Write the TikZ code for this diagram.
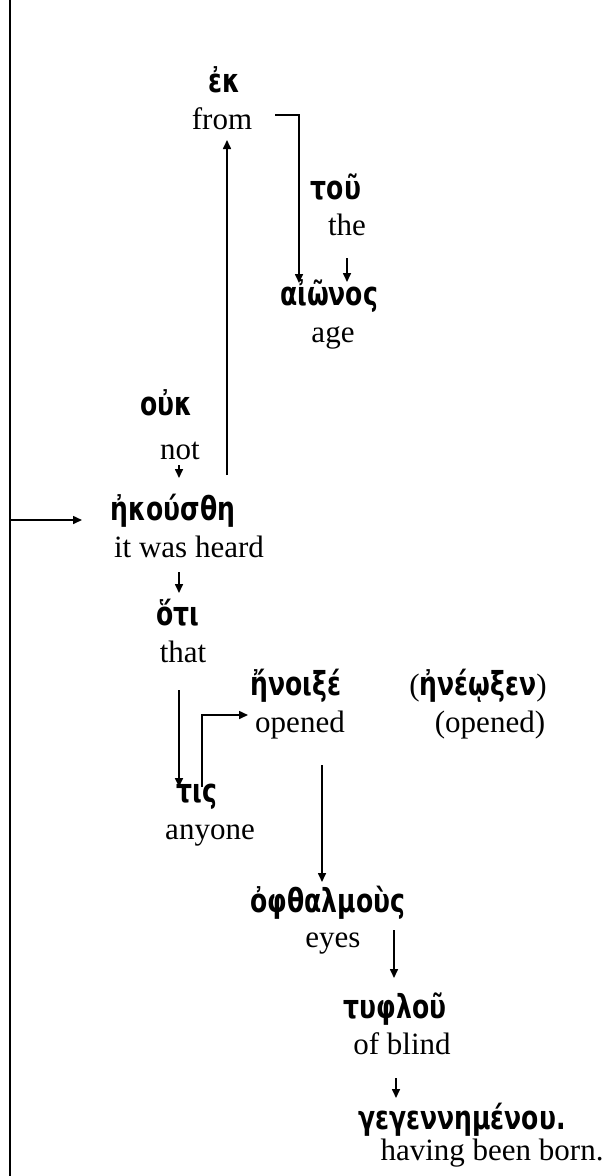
\documentclass[tikz,border=0pt]{standalone}
\usepackage{fontspec}
\setmainfont{Liberation Serif}
\newfontfamily\grfont{DejaVu Sans}[FakeStretch=0.76]
\usetikzlibrary{arrows.meta}
\tikzset{
  gr/.style={font=\grfont\bfseries\fontsize{33}{36}\selectfont, inner sep=0pt, anchor=mid},
  en/.style={font=\fontsize{31}{36}\selectfont, inner sep=0pt, anchor=mid},
  arr/.style={-{Triangle[length=9pt,width=8pt]}, line width=1.6pt},
  ln/.style={line width=1.6pt}
}
\begin{document}
\begin{tikzpicture}[x=1pt,y=-1pt]
\useasboundingbox (0,0) rectangle (609,1176);
% texts
\node[gr] (ek) at (224,90) {ἐκ};
\node[en] (from) at (222,127) {from};
\node[gr] (tou) at (336,197) {τοῦ};
\node[en] (the) at (347,233) {the};
\node[gr] (aionos) at (329,303) {αἰῶνος};
\node[en] (age) at (333,340) {age};
\node[gr] (ouk) at (166,413) {οὐκ};
\node[en] (not) at (180,457) {not};
\node[gr] (ekousthe) at (173,518) {ἠκούσθη};
\node[en] (heard) at (189,555) {it was heard};
\node[gr] (hoti) at (178,623) {ὅτι};
\node[en] (that) at (183,660) {that};
\node[gr] (enoixe) at (296,693) {ἤνοιξέ};
\node[en] (opened) at (300,730) {opened};
\node[gr] (eneoxen) at (478,693) {{\rmfamily\mdseries\fontsize{31}{36}\selectfont(}ἠνέῳξεν{\rmfamily\mdseries\fontsize{31}{36}\selectfont)}};
\node[en] (openedb) at (490,730) {(opened)};
\node[gr] (tis) at (197,800) {τις};
\node[en] (anyone) at (210,837) {anyone};
\node[gr] (ophth) at (328,910) {ὀφθαλμοὺς};
\node[en] (eyes) at (333,945) {eyes};
\node[gr] (typhlou) at (395,1016) {τυφλοῦ};
\node[en] (blind) at (402,1052) {of blind};
\node[gr] (gegen) at (462,1127) {γεγεννημένου.};
\node[en] (born) at (492,1158) {having been born.};
% connector end points
\coordinate (lt) at (10,0);
\coordinate (lb) at (10,1176);
\coordinate (la) at (10,520);
\coordinate (lat) at (82,520);
\coordinate (b1) at (275,115);
\coordinate (b2) at (299,115);
\coordinate (b3) at (299,283);
\coordinate (u1) at (227,475);
\coordinate (u2) at (227,140);
\coordinate (t1) at (347,258);
\coordinate (t2) at (347,282);
\coordinate (n1) at (179,465);
\coordinate (n2) at (179,478);
\coordinate (h1) at (179,572);
\coordinate (h2) at (179,593);
\coordinate (th1) at (179,690);
\coordinate (th2) at (179,787);
\coordinate (e1) at (202,787);
\coordinate (e2) at (202,715);
\coordinate (e3) at (248,715);
\coordinate (o1) at (322,765);
\coordinate (o2) at (322,882);
\coordinate (y1) at (394,930);
\coordinate (y2) at (394,978);
\coordinate (f1) at (396,1078);
\coordinate (f2) at (396,1098);
% connectors
\draw[ln] (lt) -- (lb);
\draw[arr] (la) -- (lat);
\draw[arr] (b1) -- (b2) -- (b3);
\draw[arr] (u1) -- (u2);
\draw[arr] (t1) -- (t2);
\draw[arr] (n1) -- (n2);
\draw[arr] (h1) -- (h2);
\draw[arr] (th1) -- (th2);
\draw[arr] (e1) -- (e2) -- (e3);
\draw[arr] (o1) -- (o2);
\draw[arr] (y1) -- (y2);
\draw[arr] (f1) -- (f2);
\end{tikzpicture}
\end{document}
